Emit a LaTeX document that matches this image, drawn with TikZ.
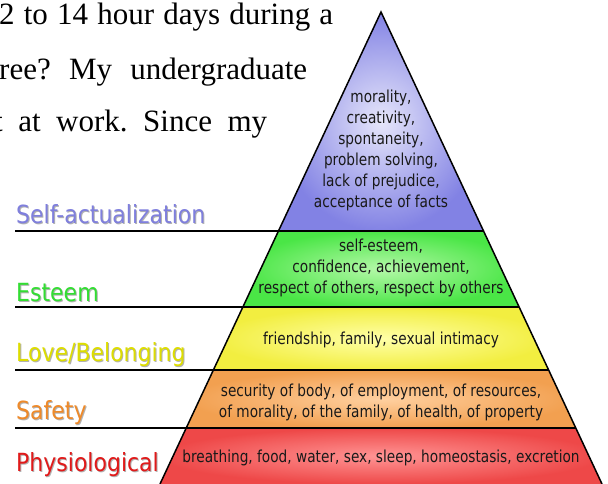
\documentclass[tikz,border=0pt]{standalone}
\usepackage{fontspec}
\setmainfont{Liberation Serif}
\newfontfamily\levelfont[FakeStretch=0.88]{DejaVu Sans}
\newfontfamily\needfont[FakeStretch=0.83]{DejaVu Sans}
\usetikzlibrary{calc}
\frenchspacing

\definecolor{selfblue}{HTML}{7F7FDD}
\definecolor{esteemgreen}{HTML}{33DD33}
\definecolor{loveyellow}{HTML}{DDDD00}
\definecolor{safetyorange}{HTML}{EE8A2A}
\definecolor{physred}{HTML}{E01A1A}
\definecolor{blueinner}{HTML}{E6E6FA}
\definecolor{blueouter}{HTML}{8282E4}
\definecolor{greeninner}{HTML}{B4F8A8}
\definecolor{greenouter}{HTML}{4AE646}
\definecolor{yellowinner}{HTML}{FFFFA8}
\definecolor{yellowouter}{HTML}{F2EE40}
\definecolor{orangeinner}{HTML}{FFD0A0}
\definecolor{orangeouter}{HTML}{F2A050}
\definecolor{redinner}{HTML}{FF9494}
\definecolor{redouter}{HTML}{EE4848}

% level name with a soft drop shadow
\newcommand{\dropname}[1]{\rlap{\kern1pt\raisebox{-1pt}{\textcolor{black!30}{#1}}}#1}

\tikzset{
  page line/.style={anchor=base west, inner sep=0pt, font=\fontsize{31}{36}\selectfont},
  level label/.style={anchor=base west, inner sep=0pt, font=\levelfont\fontsize{25}{28}\selectfont},
  layer text/.style={align=center, inner sep=0pt, text=black!90, font=\needfont\fontsize{16.5}{21}\selectfont},
  edge line/.style={line width=1.5pt, line join=miter},
  rule shadow/.style={black!30, line width=1.5pt, yshift=-1.6pt},
}

\begin{document}
\begin{tikzpicture}[x=1pt,y=-1pt]
\useasboundingbox (0,0) rectangle (608,484);
\clip (0,0) rectangle (608,484);

% Page text
\node[page line] (line1) at (-1,25) {\makebox[334pt][s]{2 to 14 hour days during a}};
\node[page line] (line2) at (-1,80) {\makebox[308pt][s]{ree? My undergraduate}};
\node[page line] (line3) at (-6,132) {\makebox[273pt][s]{t at work. Since my}};

% Pyramid corners
\coordinate (apex) at (381,12);
\coordinate (sa-l) at (278.5,231);
\coordinate (sa-r) at (483.5,231);
\coordinate (es-l) at (242.9,307);
\coordinate (es-r) at (519.1,307);
\coordinate (lb-l) at (213.4,370);
\coordinate (lb-r) at (548.6,370);
\coordinate (sf-l) at (186.2,428);
\coordinate (sf-r) at (575.8,428);
\coordinate (ph-l) at (160,484);
\coordinate (ph-r) at (602,484);

% Layers
\shade[inner color=blueinner, outer color=blueouter] (apex) -- (sa-r) -- (sa-l) -- cycle;
\shade[inner color=greeninner, outer color=greenouter] (sa-l) -- (sa-r) -- (es-r) -- (es-l) -- cycle;
\shade[inner color=yellowinner, outer color=yellowouter] (es-l) -- (es-r) -- (lb-r) -- (lb-l) -- cycle;
\shade[inner color=orangeinner, outer color=orangeouter] (lb-l) -- (lb-r) -- (sf-r) -- (sf-l) -- cycle;
\shade[inner color=redinner, outer color=redouter] (sf-l) -- (sf-r) -- (ph-r) -- (ph-l) -- cycle;

% Outline and dividers
\draw[edge line] (ph-l) -- (apex) -- (ph-r);
\draw[edge line] (sa-l) -- (sa-r);
\draw[edge line] (es-l) -- (es-r);
\draw[edge line] (lb-l) -- (lb-r);
\draw[edge line] (sf-l) -- (sf-r);

% Rules to the labels
\coordinate (sa-end) at (15,231);
\coordinate (es-end) at (15,307);
\coordinate (lb-end) at (15,370);
\coordinate (sf-end) at (15,428);
\draw[rule shadow] (sa-end) -- (sa-l);
\draw[rule shadow] (es-end) -- (es-l);
\draw[rule shadow] (lb-end) -- (lb-l);
\draw[rule shadow] (sf-end) -- (sf-l);
\draw[edge line] (sa-end) -- (sa-l);
\draw[edge line] (es-end) -- (es-l);
\draw[edge line] (lb-end) -- (lb-l);
\draw[edge line] (sf-end) -- (sf-l);

% Level names
\node[level label, text=selfblue] (self) at (16,223) {\dropname{Self-actualization}};
\node[level label, text=esteemgreen] (esteem) at (16,301) {\dropname{Esteem}};
\node[level label, text=loveyellow] (love) at (16,361) {\dropname{Love/Belonging}};
\node[level label, text=safetyorange] (safety) at (16,419) {\dropname{Safety}};
\node[level label, text=physred] (physio) at (16,471) {\dropname{Physiological}};

% Needs in each layer
\node[layer text] (sa-text) at (381,150) {morality,\\creativity,\\spontaneity,\\problem solving,\\lack of prejudice,\\acceptance of facts};
\node[layer text] (es-text) at (381,268) {self-esteem,\\confidence, achievement,\\respect of others, respect by others};
\node[layer text] (lb-text) at (381,340) {friendship, family, sexual intimacy};
\node[layer text] (sf-text) at (381,402) {security of body, of employment, of resources,\\of morality, of the family, of health, of property};
\node[layer text] (ph-text) at (381,458) {breathing, food, water, sex, sleep, homeostasis, excretion};

\end{tikzpicture}
\end{document}
